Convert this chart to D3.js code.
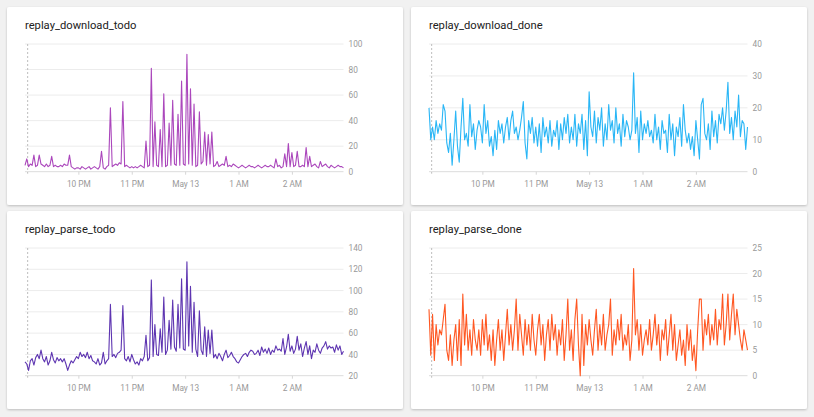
<!DOCTYPE html>
<html><head><meta charset="utf-8">
<script src="https://cdn.jsdelivr.net/npm/d3@7"></script>
<style>
html,body{margin:0;padding:0;background:#f1f1f1;}
svg{display:block;font-family:Roboto,"Noto Sans",sans-serif;}
</style></head><body>
<svg id="chart" width="814" height="417"></svg>
<script>
// ---- data ----
const startTime = "2019-05-12T21:00";
const stepMinutes = 2;
const markerTime = "2019-05-12T21:03";
const xTickTimes = ["2019-05-12T22:00","2019-05-12T23:00","2019-05-13T00:00","2019-05-13T01:00","2019-05-13T02:00"];
const xTickLabels = ["10 PM","11 PM","May 13","1 AM","2 AM"];

const titles = ["replay_download_todo","replay_download_done","replay_parse_todo","replay_parse_done"];
const colors = ["#ab47bc","#29b6f6","#5e35b1","#ff5722"];
const yTicksDownloadTodo = [0,20,40,60,80,100];
const yTicksDownloadDone = [0,10,20,30,40];
const yTicksParseTodo = [20,40,60,80,100,120,140];
const yTicksParseDone = [0,5,10,15,20,25];

const downloadTodo = [
5,10,4,6,5,13,4,5,13,6,
5,4,6,4,5,12,4,5,4,4,
5,4,6,5,5,13,4,3,2,3,
3,2,4,3,2,3,4,2,3,4,
3,2,4,16,3,2,4,5,50,4,
5,6,5,7,6,55,4,5,4,3,
4,3,4,3,4,5,4,3,24,4,
5,81,4,39,5,4,33,4,61,4,
5,38,5,56,6,5,45,5,71,6,
5,92,6,65,5,53,4,5,47,6,
8,31,5,29,6,31,4,5,8,4,
5,6,5,12,4,5,4,6,5,4,
3,4,5,4,3,4,5,4,4,3,
4,5,4,3,4,5,4,4,5,4,
3,10,4,5,3,4,14,4,22,4,
15,4,5,16,4,4,5,4,19,4,
12,4,5,6,4,3,8,4,5,6,
4,3,5,4,3,4,5,4,4,3];

const downloadDone = [
20,10,14,10,16,12,15,13,21,19,
9,6,12,2,10,19,8,3,14,23,
10,12,8,21,11,15,7,13,16,14,
9,21,12,16,8,11,5,13,7,16,
12,15,9,14,17,10,16,19,12,14,
10,13,17,22,9,4,16,12,17,9,
14,8,15,6,17,11,14,9,16,8,
13,11,16,7,15,10,17,12,18,9,
14,10,18,8,15,12,18,7,16,5,
25,14,11,19,9,17,13,20,8,15,
10,21,13,16,9,20,12,15,8,18,
11,16,14,10,13,31,12,17,6,19,
10,15,12,16,11,13,9,18,10,14,
7,16,12,13,6,18,10,15,5,14,
11,17,8,21,13,9,12,7,11,5,
16,10,4,21,23,12,10,15,7,19,
11,16,9,18,15,20,13,19,28,12,
17,10,19,14,24,11,16,15,7,14];

const parseTodo = [
33,31,25,34,36,30,37,40,36,44,
36,33,38,30,34,42,35,32,37,34,
36,33,36,31,25,30,34,32,35,38,
36,42,38,40,37,42,36,39,34,33,
31,36,30,32,42,31,34,36,87,38,
40,37,41,42,44,86,36,34,38,33,
40,35,31,33,30,36,34,38,58,34,
37,110,38,68,40,39,64,42,94,40,
44,72,45,91,47,43,87,46,111,45,
44,127,48,104,42,89,45,38,81,44,
40,66,38,63,41,63,37,40,36,41,
38,34,40,44,37,39,42,38,36,33,
32,35,38,40,41,38,42,44,43,40,
41,44,39,47,42,45,41,46,40,44,
42,48,44,45,43,55,40,47,59,43,
48,41,45,57,44,50,38,46,52,40,
48,36,44,42,50,44,41,46,48,52,
45,48,46,47,42,49,44,48,40,43];

const parseDone = [
13,4,12,3,10,6,9,8,11,14,
5,3,8,2,7,10,3,11,2,16,
6,12,5,9,4,11,7,5,9,4,
11,6,12,5,8,3,9,2,7,11,
5,9,3,8,13,6,10,5,9,15,
5,12,8,4,11,6,10,5,12,7,
4,9,12,6,10,3,8,11,5,12,
7,10,4,9,6,11,3,8,15,5,
9,3,11,15,6,0,12,2,10,6,
11,7,4,9,13,5,10,6,12,5,
8,10,15,4,9,6,11,7,12,5,
8,6,10,3,7,21,8,11,5,10,
4,7,9,6,11,5,8,12,6,10,
3,9,7,11,4,8,12,5,10,3,
6,9,4,7,2,10,5,9,3,6,
1,9,15,15,5,11,8,12,6,10,
7,13,6,11,9,16,6,10,16,7,
12,16,8,13,10,7,5,9,7,5];

// ---- build ----
const parse = d3.timeParse("%Y-%m-%dT%H:%M");
const t0 = parse(startTime);
const toSeries = vals => vals.map((v,i) => ({t: d3.timeMinute.offset(t0, i*stepMinutes), v}));

const panels = [
  {title: titles[0], color: colors[0], values: downloadTodo, yTicks: yTicksDownloadTodo, cx: 7,   cy: 7},
  {title: titles[1], color: colors[1], values: downloadDone, yTicks: yTicksDownloadDone, cx: 411, cy: 7},
  {title: titles[2], color: colors[2], values: parseTodo,    yTicks: yTicksParseTodo,    cx: 7,   cy: 211},
  {title: titles[3], color: colors[3], values: parseDone,    yTicks: yTicksParseDone,    cx: 411, cy: 211}
];

const svg = d3.select("#chart");
const defs = svg.append("defs");
const f = defs.append("filter").attr("id","shadow").attr("x","-5%").attr("y","-5%").attr("width","110%").attr("height","115%");
f.append("feDropShadow").attr("dx",0).attr("dy",1).attr("stdDeviation",1.2).attr("flood-color","#000").attr("flood-opacity",0.22);

const tickTimes = xTickTimes.map(parse);

panels.forEach((p, k) => {
  const cardW = 396, cardH = 198;
  const g = svg.append("g").attr("transform", `translate(${p.cx},${p.cy})`);
  g.append("rect").attr("width", cardW).attr("height", cardH).attr("rx", 2)
    .attr("fill", "#fff").attr("filter", "url(#shadow)");
  g.append("text").attr("x", 18).attr("y", 21.5).attr("font-size", 11.2).attr("fill", "#212121").text(p.title);

  const data = toSeries(p.values);
  const left = 18, right = 336.5, top = 37, bottom = 164.7;
  const x = d3.scaleTime().domain(d3.extent(data, d => d.t)).range([left, right]);
  const y = d3.scaleLinear().domain(d3.extent(p.yTicks)).range([bottom, top]);

  // gridlines
  g.append("g").selectAll("line").data(p.yTicks).join("line")
    .attr("x1", left).attr("x2", right)
    .attr("y1", d => y(d)).attr("y2", d => y(d))
    .attr("stroke", d => d === p.yTicks[0] ? "#dcdcdc" : "#ececec").attr("stroke-width", 1);

  // y axis labels (right)
  const ya = g.append("g").attr("transform", `translate(${right},0)`)
    .call(d3.axisRight(y).tickValues(p.yTicks).tickSize(0).tickPadding(5));
  ya.select(".domain").remove();
  ya.selectAll("text").attr("font-size", 8.3).attr("fill", "#999").attr("font-family", "Roboto");

  // x axis
  const xa = g.append("g").attr("transform", `translate(0,${bottom})`)
    .call(d3.axisBottom(x).tickValues(tickTimes).tickFormat((d,i) => xTickLabels[i]).tickSize(3).tickPadding(6));
  xa.select(".domain").remove();
  xa.selectAll("line").attr("stroke", "#d6d6d6");
  xa.selectAll("text").attr("font-size", 8.3).attr("fill", "#999").attr("font-family", "Roboto");

  // dashed marker
  const mx = x(parse(markerTime));
  g.append("line").attr("x1", mx).attr("x2", mx).attr("y1", top).attr("y2", bottom + 2)
    .attr("stroke", "#bdbdbd").attr("stroke-dasharray", "2,2").attr("stroke-width", 1);

  // line
  g.append("path").datum(data)
    .attr("fill", "none").attr("stroke", p.color).attr("stroke-width", 1.1).attr("stroke-linejoin", "round")
    .attr("d", d3.line().x(d => x(d.t)).y(d => y(d.v)));
});
</script>
</body></html>
